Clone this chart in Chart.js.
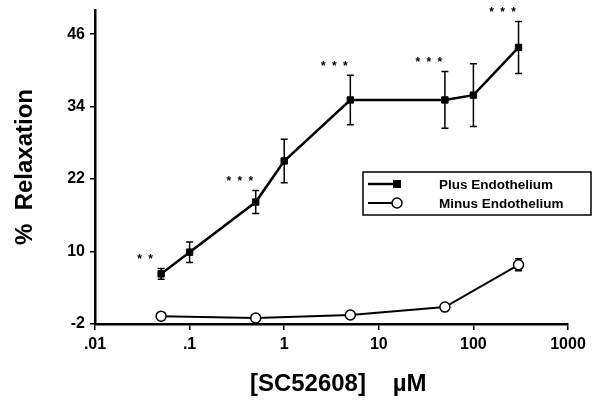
<!DOCTYPE html>
<html>
<head>
<meta charset="utf-8">
<script src="https://cdn.jsdelivr.net/npm/chart.js@4.4.0/dist/chart.umd.min.js"></script>
<style>
html, body { margin: 0; padding: 0; background: #fff; }
</style>
</head>
<body>
<canvas id="graficoRelax" width="602" height="402"></canvas>
<script>
const concPlus = [0.05, 0.1, 0.5, 1, 5, 50, 100, 300];
const relaxPlus = [6.3, 9.9, 18.2, 25.0, 35.1, 35.1, 35.9, 43.8];
const errPlus = [0.9, 1.7, 1.9, 3.6, 4.1, 4.7, 5.2, 4.3];
const sigPlus = [2, 0, 3, 0, 3, 3, 0, 3]; // numero de asteriscos

const concMinus = [0.05, 0.5, 5, 50, 300];
const relaxMinus = [-0.7, -1.0, -0.5, 0.8, 7.8];
const errMinus = [0, 0, 0, 0, 1.0];

const xTicks = [0.01, 0.1, 1, 10, 100, 1000];
const xTickLabels = ['.01', '.1', '1', '10', '100', '1000'];
const yTicks = [-2, 10, 22, 34, 46];

const fonte = 'Liberation Sans, Arial, Helvetica, sans-serif';

// barras de erro desenhadas com as escalas do grafico
const errorBars = {
    id: 'errorBars',
    beforeDatasetsDraw(chart) {
        const ctx = chart.ctx;
        const xs = chart.scales.x, ys = chart.scales.y;
        ctx.save();
        ctx.strokeStyle = '#000';
        ctx.lineWidth = 1.5;
        chart.data.datasets.forEach(ds => {
            ds.data.forEach((p, i) => {
                const e = ds.errors[i];
                if (!e) return;
                const x = xs.getPixelForValue(p.x);
                const y1 = ys.getPixelForValue(p.y + e);
                const y2 = ys.getPixelForValue(p.y - e);
                ctx.beginPath();
                ctx.moveTo(x, y1); ctx.lineTo(x, y2);
                ctx.moveTo(x - 3.5, y1); ctx.lineTo(x + 3.5, y1);
                ctx.moveTo(x - 3.5, y2); ctx.lineTo(x + 3.5, y2);
                ctx.stroke();
            });
        });
        ctx.restore();
    },
    afterDatasetsDraw(chart) {
        // asteriscos de significancia
        const ctx = chart.ctx;
        const xs = chart.scales.x, ys = chart.scales.y;
        const ds = chart.data.datasets[0];
        ctx.save();
        ctx.fillStyle = '#000';
        ctx.font = 'bold 12px ' + fonte;
        ctx.textAlign = 'center';
        ctx.textBaseline = 'middle';
        ds.data.forEach((p, i) => {
            const n = ds.sig[i];
            if (!n) return;
            const cx = xs.getPixelForValue(p.x) - 16;
            const y = ys.getPixelForValue(p.y + ds.errors[i]) - 12;
            for (let k = 0; k < n; k++) {
                ctx.fillText('*', cx + (k - (n - 1) / 2) * 11, y + 3);
            }
        });
        ctx.restore();
    }
};

// legenda com caixa dentro do grafico
const legendaBox = {
    id: 'legendaBox',
    afterDraw(chart) {
        const ctx = chart.ctx;
        const bx = 363, by = 172, bw = 228, bh = 43;
        ctx.save();
        ctx.fillStyle = '#fff';
        ctx.fillRect(bx, by, bw, bh);
        ctx.strokeStyle = '#000';
        ctx.lineWidth = 1.5;
        ctx.strokeRect(bx, by, bw, bh);
        chart.data.datasets.forEach((ds, i) => {
            const y = by + 12 + i * 19;
            ctx.strokeStyle = '#000';
            ctx.lineWidth = ds.borderWidth;
            ctx.beginPath();
            ctx.moveTo(368, y); ctx.lineTo(397, y);
            ctx.stroke();
            ctx.lineWidth = 1.5;
            if (ds.pointStyle === 'rect') {
                ctx.fillStyle = '#000';
                ctx.fillRect(393, y - 4, 8, 8);
            } else {
                ctx.fillStyle = '#fff';
                ctx.beginPath();
                ctx.arc(397, y, 5, 0, Math.PI * 2);
                ctx.fill();
                ctx.stroke();
            }
            ctx.fillStyle = '#000';
            ctx.font = 'bold 13.5px ' + fonte;
            ctx.textBaseline = 'middle';
            ctx.fillText(ds.label, 439, y + 1);
        });
        ctx.restore();
    }
};

const ctx = document.getElementById('graficoRelax').getContext('2d');

new Chart(ctx, {
    type: 'line',
    data: {
        datasets: [{
            label: 'Plus Endothelium',
            data: concPlus.map((c, i) => ({ x: c, y: relaxPlus[i] })),
            errors: errPlus,
            sig: sigPlus,
            borderColor: '#000',
            borderWidth: 2.5,
            pointStyle: 'rect',
            pointRadius: 4.5,
            pointBackgroundColor: '#000',
            pointBorderColor: '#000',
            pointBorderWidth: 1,
            tension: 0
        }, {
            label: 'Minus Endothelium',
            data: concMinus.map((c, i) => ({ x: c, y: relaxMinus[i] })),
            errors: errMinus,
            sig: [],
            borderColor: '#000',
            borderWidth: 2,
            pointStyle: 'circle',
            pointRadius: 5,
            pointBackgroundColor: '#fff',
            pointBorderColor: '#000',
            pointBorderWidth: 1.5,
            tension: 0
        }]
    },
    options: {
        responsive: false,
        animation: false,
        devicePixelRatio: 1,
        layout: { padding: { top: 10, right: 34, left: 0, bottom: 0 } },
        plugins: {
            legend: { display: false },
            tooltip: { enabled: false }
        },
        scales: {
            x: {
                type: 'logarithmic',
                min: 0.01,
                max: 1000,
                afterBuildTicks: s => { s.ticks = xTicks.map(v => ({ value: v })); },
                afterFit: s => { s.height = 78; s.paddingLeft = 0; s.paddingRight = 0; },
                border: { color: '#000', width: 2.5 },
                grid: { drawOnChartArea: false, drawTicks: true, tickLength: 6, color: '#000', lineWidth: 1.5 },
                ticks: {
                    color: '#000',
                    font: { family: fonte, size: 16, weight: 'bold' },
                    padding: 5,
                    maxRotation: 0,
                    autoSkip: false,
                    callback: (v, i) => xTickLabels[i]
                },
                title: {
                    display: true,
                    text: '  [SC52608]    \u00b5M',
                    color: '#000',
                    font: { family: fonte, size: 24, weight: 'bold' },
                    padding: { top: 0, bottom: 3 }
                }
            },
            y: {
                min: -2,
                max: 50,
                afterBuildTicks: s => { s.ticks = yTicks.map(v => ({ value: v })); },
                afterFit: s => { s.width = 95; s.paddingTop = 0; s.paddingBottom = 0; },
                border: { color: '#000', width: 2.5 },
                grid: { drawOnChartArea: false, drawTicks: true, tickLength: 5, color: '#000', lineWidth: 1.5 },
                ticks: {
                    color: '#000',
                    font: { family: fonte, size: 16, weight: 'bold' },
                    padding: 5
                },
                title: {
                    display: true,
                    text: '%  Relaxation',
                    color: '#000',
                    font: { family: fonte, size: 24, weight: 'bold' },
                    padding: { top: 11, bottom: 0 }
                }
            }
        }
    },
    plugins: [errorBars, legendaBox]
});
</script>
</body>
</html>
